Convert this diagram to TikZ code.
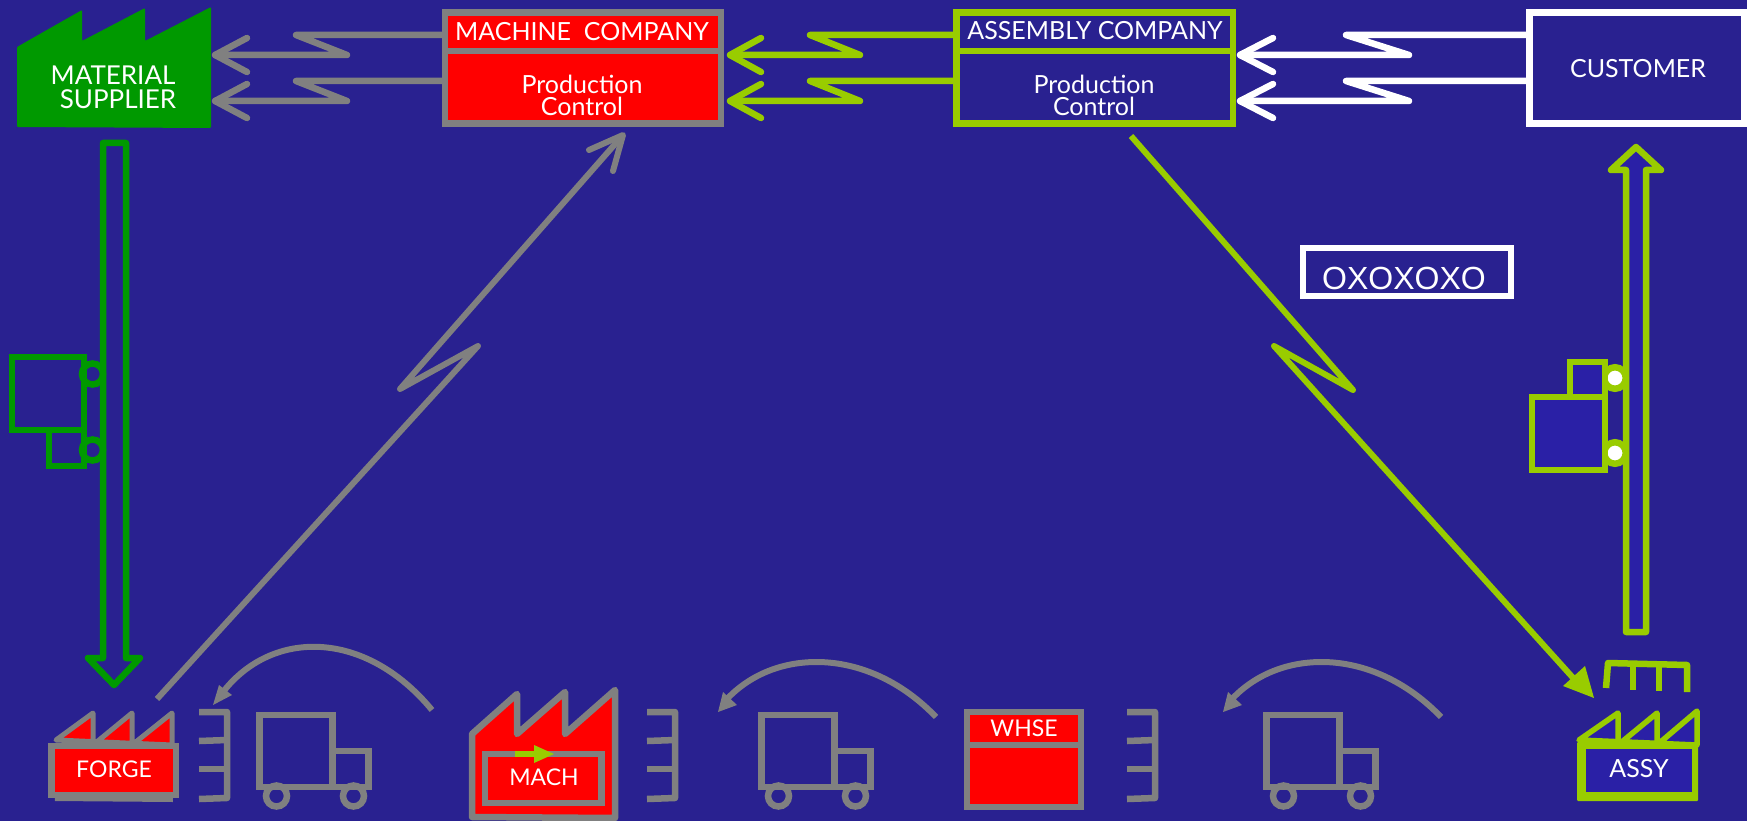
\documentclass[tikz,border=0pt]{standalone}
\usepackage{fontspec}
\setmainfont{Lato}
\newfontfamily\arialfont{Liberation Sans}
\definecolor{bgblue}{HTML}{292190}
\definecolor{boxblue}{HTML}{2A20A6}
\definecolor{olive}{HTML}{99CC00}
\definecolor{dgreen}{HTML}{009900}
\definecolor{mgrey}{HTML}{808080}
\tikzset{
  x=1pt,y=-1pt,
  wire/.style={line width=6.5pt,line join=round,line cap=round},
  boxline/.style={line width=6.5pt,line join=miter},
  label/.style={text=white,font=\fontsize{25}{25}\selectfont,inner sep=0pt},
  small label/.style={text=white,font=\fontsize{23}{23}\selectfont,inner sep=0pt},
  mark pt/.style={inner sep=0pt,minimum size=0pt},
}
\newcommand{\zigpair}[6]{% color, source node, xBend1, xBend2, xTip, xBarb
  \foreach \dy in {0,46}{
    \draw[wire,#1] (#2.west |- 0,35+\dy) -- (#3,35+\dy) -- (#4,55+\dy) -- (#5,55+\dy);
    \draw[wire,#1] (#6,38+\dy) -- (#5,55+\dy) -- (#6,72+\dy);
  }
}
\newcommand{\truck}[2]{%
  \begin{scope}[shift={(#1,#2)}]
    \draw[boxline,mgrey] (17,81) circle [radius=10.5];
    \draw[boxline,mgrey] (94,81) circle [radius=10.5];
    \draw[boxline,mgrey] (0,0) rectangle (73,72);
    \draw[boxline,mgrey] (73,36) -- (109,36) -- (109,72) -- (73,72);
  \end{scope}
}
\newcommand{\kanban}[1]{%
  \draw[boxline,mgrey,line join=round] (#1,712) -- (#1+28,712) -- (#1+28,798) -- (#1,799);
  \draw[boxline,mgrey] (#1,741) -- (#1+28,740);
  \draw[boxline,mgrey] (#1,769) -- (#1+28,769);
}
\begin{document}
\begin{tikzpicture}
\useasboundingbox (0,0) rectangle (1747,821);
\fill[bgblue] (0,0) rectangle (1747,821);

% --- Box nodes that zigzags start from
\node[mark pt,minimum width=282pt] (machine) at (583,68.3) {};
\node[mark pt,minimum width=282pt] (assembly) at (1094.8,68.3) {};
\node[mark pt,minimum width=220pt] (customer) at (1636,68.3) {};

% --- Information zigzags
\zigpair{mgrey}{machine}{296}{347}{215}{247}
\zigpair{olive}{assembly}{810}{860}{730}{761}
\zigpair{white}{customer}{1346}{1409}{1240}{1273}

% --- Material supplier
\fill[dgreen,rounded corners=1pt] (17,47) -- (82,10) -- (82,41) -- (145,8) -- (145,41) -- (211,7) -- (211,128) -- (17,127) -- cycle;
\node[label,font=\fontsize{26}{26}\selectfont] (suppliera) at (113,75) {MATERIAL};
\node[label,font=\fontsize{26}{26}\selectfont] (supplierb) at (118,99) {SUPPLIER};

% --- Machine company
\draw[boxline,mgrey,fill=red] (445,12.5) rectangle (721,123.5);
\draw[boxline,mgrey] (445,51) -- (721,51);
\node[label] (machinet) at (582,32) {MACHINE\ \ COMPANY};
\node[label] (machinep) at (582,84) {Production};
\node[label] (machinec) at (582,106) {Control};

% --- Assembly company
\draw[boxline,olive,fill=bgblue] (956.5,12.5) rectangle (1233,123.5);
\draw[boxline,olive] (956.5,51) -- (1233,51);
\node[label] (assemblyt) at (1095,31) {ASSEMBLY COMPANY};
\node[label] (assemblyp) at (1094,84) {Production};
\node[label] (assemblyc) at (1094,106) {Control};

% --- Customer
\draw[boxline,white,fill=bgblue] (1529.5,12.5) rectangle (1744,123.5);
\node[label] (customert) at (1638,69) {CUSTOMER};

% --- Oxoxoxo
\draw[boxline,white] (1303,248) rectangle (1511,296);
\node[text=white,font=\arialfont\fontsize{32}{32}\selectfont,inner sep=0pt] (oxo) at (1404,278) {OXOXOXO};

% --- Long lightning lines
\coordinate (gs) at (157,699);
\coordinate (gt) at (623,135);
\draw[line width=6pt,mgrey,line join=round,line cap=butt] (gs) -- (478,346) -- (400,389) -- (gt);
\draw[wire,mgrey,line width=6pt] (589,150) -- (gt) -- (613,171);
\coordinate (os) at (1131,136);
\coordinate (ot) at (1594,698);
\draw[line width=6pt,olive,line join=round] (os) -- (1353,390) -- (1274,346) -- (1575,680);
\fill[olive] (ot) -- (1563,686) -- (1585,666) -- cycle;

% --- Material flow: down (green)
\draw[wire,dgreen,line cap=butt] (103,143) -- (126,143) -- (126,658) -- (140,658) -- (114,685) -- (88,658) -- (103,658) -- cycle;
% --- Material flow: up (olive)
\draw[wire,olive,fill=boxblue] (1626,632) -- (1646,632) -- (1646,170) -- (1661,170) -- (1636,147) -- (1611,170) -- (1626,170) -- cycle;

% --- Left conveyor boxes
\draw[boxline,dgreen] (92.5,374) circle [radius=10.5];
\draw[boxline,dgreen] (92.5,450) circle [radius=10.5];
\draw[boxline,dgreen] (12,357) rectangle (84,430);
\draw[boxline,dgreen] (49,430) rectangle (84,466);

% --- Right conveyor boxes
\draw[line width=6.5pt,olive,fill=white] (1615,378) circle [radius=10.75];
\draw[line width=6.5pt,olive,fill=white] (1615,453) circle [radius=10.75];
\draw[boxline,olive,fill=boxblue] (1570,362) rectangle (1605,397);
\draw[boxline,olive,fill=boxblue] (1532,397) rectangle (1605,470);

% --- Forge
\draw[line width=5pt,mgrey,fill=red,line join=round] (56,740) -- (93,713) -- (93,745) -- (132,713) -- (132,745) -- (172,713) -- (172,745) -- cycle;
\draw[line width=6.5pt,mgrey,fill=red] (51.5,746) rectangle (176,795);
\draw[line width=8pt,mgrey,line join=round] (55,797) -- (173,798);
\node[small label] (forge) at (114,769) {FORGE};

% --- Mach
\draw[boxline,mgrey,fill=red,line join=round] (472,770) -- (472,734) -- (517,694) -- (517,734) -- (565,692) -- (565,734) -- (615,690) -- (615,818) -- (472,817) -- cycle;
\draw[boxline,mgrey,fill=red] (485,754) rectangle (601.5,803);
\draw[olive,line width=6pt] (515,754) -- (537,754);
\fill[olive] (534,745) -- (554,754) -- (534,763) -- cycle;
\node[small label] (mach) at (544,777) {MACH};

% --- Whse
\draw[boxline,mgrey,fill=red] (967,712) rectangle (1081,807);
\draw[boxline,mgrey] (967,745) -- (1081,745);
\node[small label] (whse) at (1024,728) {WHSE};

% --- Assy
\draw[line width=5.5pt,olive,fill=boxblue,line join=round] (1579,740) -- (1618,713) -- (1618,745) -- (1657,713) -- (1657,745) -- (1697,711) -- (1697,745) -- cycle;
\fill[olive,rounded corners=1pt] (1577,742) rectangle (1698,801);
\fill[boxblue] (1586,749) rectangle (1692,792);
\node[label] (assy) at (1639,769) {ASSY};

% --- Kanban combs
\kanban{199}
\kanban{647}
\kanban{1127}
\draw[wire,olive,line cap=butt] (1606,688) -- (1608,663) -- (1687,665) -- (1687,692);
\draw[boxline,olive] (1633,664) -- (1633,690);
\draw[boxline,olive] (1659,664) -- (1659,691);

% --- Trucks
\truck{259.5}{715}
\truck{761.5}{715}
\truck{1266.5}{715}

% --- Return arcs
\draw[line width=6pt,mgrey] (432,710) .. controls (365,629) and (272,629) .. (223,692);
\fill[mgrey] (213,705) -- (219,685) -- (232,695) -- cycle;
\draw[line width=6pt,mgrey] (936,717) .. controls (869,647) and (776,647) .. (727,699);
\fill[mgrey] (718,712) -- (723,692) -- (737,705) -- cycle;
\draw[line width=6pt,mgrey] (1441,717) .. controls (1374,647) and (1281,647) .. (1232,699);
\fill[mgrey] (1223,712) -- (1228,692) -- (1242,705) -- cycle;
\end{tikzpicture}
\end{document}
